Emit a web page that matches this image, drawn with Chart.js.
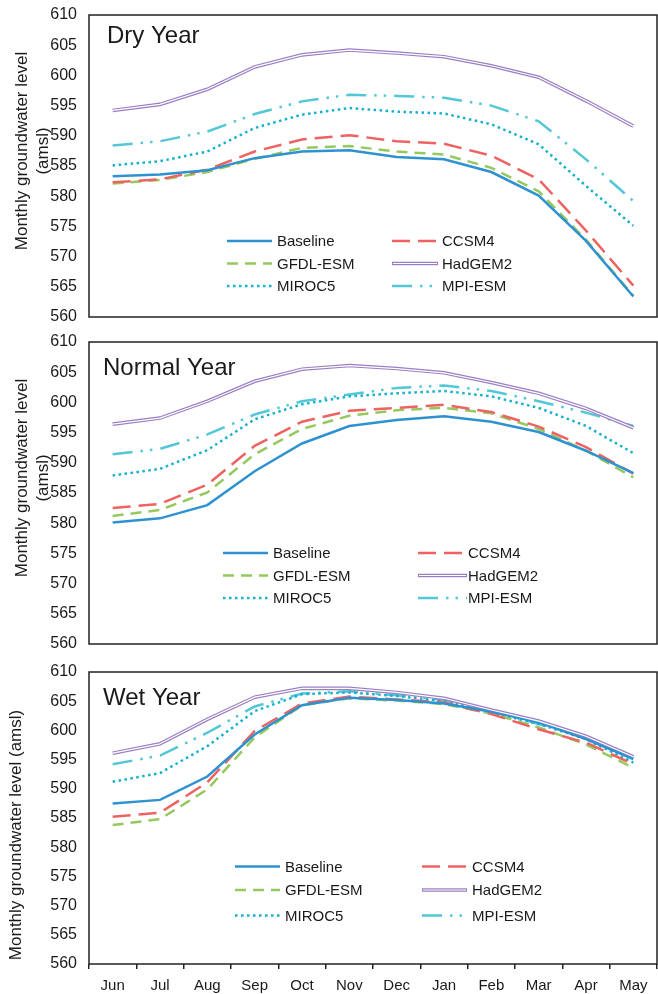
<!DOCTYPE html>
<html>
<head>
<meta charset="utf-8">
<script src="https://cdn.jsdelivr.net/npm/chart.js@4.4.1/dist/chart.umd.min.js"></script>
<style>
  body { margin: 0; background: #fff; }
  .wrap { position: relative; width: 658px; height: 994px; }
  canvas { position: absolute; left: 0; }
</style>
</head>
<body>
<div class="wrap">
  <canvas id="dry" width="658" height="330" style="top:0px"></canvas>
  <canvas id="normal" width="658" height="330" style="top:330px"></canvas>
  <canvas id="wet" width="658" height="334" style="top:660px"></canvas>
</div>
<script>
const months = ["Jun", "Jul", "Aug", "Sep", "Oct", "Nov", "Dec", "Jan", "Feb", "Mar", "Apr", "May"];
const seriesNames = ["Baseline", "CCSM4", "GFDL-ESM", "HadGEM2", "MIROC5", "MPI-ESM"];
const yTicks = [560, 565, 570, 575, 580, 585, 590, 595, 600, 605, 610];

// Dry year
const dryBaseline = [583.3, 583.6, 584.3, 586.3, 587.4, 587.6, 586.5, 586.1, 584.0, 580.1, 572.6, 563.4];
const dryCCSM4 = [582.3, 582.8, 584.4, 587.4, 589.4, 590.1, 589.1, 588.7, 586.7, 582.8, 574.3, 565.2];
const dryGFDL = [582.1, 582.7, 584.0, 586.2, 588.0, 588.3, 587.4, 586.9, 584.7, 580.8, 572.8, 563.5];
const dryHadGEM2 = [594.2, 595.2, 597.7, 601.4, 603.4, 604.2, 603.7, 603.1, 601.6, 599.7, 595.8, 591.6];
const dryMIROC5 = [585.1, 585.8, 587.4, 591.3, 593.5, 594.6, 594.0, 593.7, 591.9, 588.6, 581.7, 575.1];
const dryMPI = [588.4, 589.1, 590.7, 593.6, 595.7, 596.8, 596.6, 596.3, 595.0, 592.4, 586.1, 579.2];

// Normal year
const normalBaseline = [580.1, 580.8, 583.0, 588.6, 593.2, 596.1, 597.1, 597.7, 596.8, 595.1, 592.0, 588.3];
const normalCCSM4 = [582.5, 583.2, 586.4, 592.8, 596.8, 598.6, 599.1, 599.6, 598.4, 596.0, 592.6, 588.2];
const normalGFDL = [581.2, 582.2, 585.1, 591.4, 595.6, 597.8, 598.7, 599.1, 598.2, 595.6, 592.0, 587.6];
const normalHadGEM2 = [596.4, 597.4, 600.2, 603.5, 605.5, 606.1, 605.6, 604.9, 603.3, 601.5, 599.0, 595.8];
const normalMIROC5 = [587.9, 589.0, 592.1, 597.2, 599.7, 601.0, 601.5, 601.9, 601.0, 599.1, 596.1, 591.6];
const normalMPI = [591.4, 592.3, 594.7, 598.0, 600.2, 601.3, 602.4, 602.8, 601.9, 600.2, 598.3, 596.1];

// Wet year
const wetBaseline = [587.5, 588.1, 592.1, 599.3, 604.3, 605.6, 605.2, 604.6, 603.2, 601.4, 598.5, 595.1];
const wetCCSM4 = [585.2, 585.9, 591.1, 599.9, 604.6, 605.8, 605.3, 604.8, 602.8, 600.2, 597.9, 594.2];
const wetGFDL = [583.8, 584.8, 589.9, 598.8, 604.3, 605.5, 605.1, 604.5, 602.9, 600.5, 597.6, 593.6];
const wetHadGEM2 = [596.1, 597.7, 601.9, 605.7, 607.2, 607.2, 606.5, 605.5, 603.5, 601.6, 599.0, 595.5];
const wetMIROC5 = [591.2, 592.7, 597.3, 603.3, 606.2, 606.5, 605.9, 605.0, 603.1, 601.1, 598.5, 594.5];
const wetMPI = [594.2, 595.7, 599.6, 604.1, 606.3, 606.7, 606.0, 605.2, 603.3, 601.1, 598.8, 595.3];

const styles = [
  { color: "#2F92D0", width: 2.5, dash: [] },
  { color: "#EE6361", width: 2.5, dash: [18, 8] },
  { color: "#95C95E", width: 2.5, dash: [11, 7] },
  { color: "#9A7FC3", width: 3.6, dash: [], double: true },
  { color: "#14B1CC", width: 2.5, dash: [2.5, 3.5] },
  { color: "#52C7D5", width: 2.5, dash: [20, 8, 2.5, 7, 2.5, 8] },
];

const FONT = "'Liberation Sans', Arial, sans-serif";
const TEXT = "#1a1a1a";

// white core for the double HadGEM2 line
const doubleLine = {
  id: "doubleLine",
  afterDatasetsDraw(chart) {
    const ctx = chart.ctx;
    chart.data.datasets.forEach((ds, i) => {
      if (!ds.double) return;
      const pts = chart.getDatasetMeta(i).data;
      ctx.save();
      ctx.beginPath();
      pts.forEach((p, k) => (k === 0 ? ctx.moveTo(p.x, p.y) : ctx.lineTo(p.x, p.y)));
      ctx.strokeStyle = "#ffffff";
      ctx.lineWidth = 1.2;
      ctx.lineJoin = "round";
      ctx.stroke();
      ctx.restore();
    });
  },
};

const panelDecor = {
  id: "panelDecor",
  afterDraw(chart, args, opts) {
    const ctx = chart.ctx;
    const a = chart.chartArea;
    ctx.save();
    // frame
    ctx.strokeStyle = "#222";
    ctx.lineWidth = 1.5;
    ctx.setLineDash([]);
    ctx.strokeRect(a.left, a.top, a.right - a.left, a.bottom - a.top);

    // panel title
    ctx.fillStyle = TEXT;
    ctx.font = "24px " + FONT;
    ctx.textBaseline = "alphabetic";
    ctx.textAlign = "left";
    ctx.fillText(opts.title, opts.titleX, a.top + opts.titleDy);

    // y axis title
    ctx.font = "17px " + FONT;
    ctx.textAlign = "center";
    ctx.textBaseline = "middle";
    opts.yTitle.forEach((line, k) => {
      ctx.save();
      ctx.translate(opts.yTitleX[k], opts.yTitleCy);
      ctx.rotate(-Math.PI / 2);
      ctx.fillText(line, 0, 0);
      ctx.restore();
    });

    // legend, two columns
    ctx.font = "15px " + FONT;
    ctx.textAlign = "left";
    chart.data.datasets.forEach((ds, i) => {
      const col = i % 2;
      const row = Math.floor(i / 2);
      const y = opts.legendRows[row];
      const [x0, x1, tx] = opts.legendCols[col];
      ctx.beginPath();
      ctx.setLineDash(ds.borderDash || []);
      ctx.strokeStyle = ds.borderColor;
      ctx.lineWidth = ds.borderWidth;
      ctx.moveTo(x0, y);
      ctx.lineTo(x1, y);
      ctx.stroke();
      if (ds.double) {
        ctx.beginPath();
        ctx.strokeStyle = "#ffffff";
        ctx.lineWidth = 1.2;
        ctx.moveTo(x0 + 1, y);
        ctx.lineTo(x1 - 1, y);
        ctx.stroke();
      }
      ctx.setLineDash([]);
      ctx.fillStyle = TEXT;
      ctx.fillText(ds.label, tx, y + 1);
    });
    ctx.restore();
  },
};

function makePanel(id, values, decor, showX, padTop, padBottom) {
  const datasets = values.map((v, i) => ({
    label: seriesNames[i],
    data: v,
    borderColor: styles[i].color,
    borderWidth: styles[i].width,
    borderDash: styles[i].dash,
    double: !!styles[i].double,
    pointRadius: 0,
    tension: 0,
    fill: false,
  }));

  return new Chart(document.getElementById(id), {
    type: "line",
    data: { labels: months, datasets: datasets },
    plugins: [doubleLine, panelDecor],
    options: {
      responsive: false,
      animation: false,
      devicePixelRatio: 1,
      layout: { padding: { top: padTop, bottom: padBottom, right: 1, left: 0 } },
      plugins: {
        legend: { display: false },
        tooltip: { enabled: false },
        panelDecor: decor,
      },
      scales: {
        x: {
          type: "category",
          offset: true,
          border: { display: false },
          grid: {
            display: showX,
            drawOnChartArea: false,
            drawTicks: true,
            tickLength: 5,
            offset: true,
            color: "#222",
            lineWidth: 1.5,
          },
          ticks: {
            display: showX,
            color: TEXT,
            font: { family: FONT, size: 15 },
            padding: 8,
            maxRotation: 0,
            autoSkip: false,
          },
          afterFit: (s) => {
            s.height = showX ? 30 : 0;
            s.paddingLeft = 0;
            s.paddingRight = 0;
          },
        },
        y: {
          min: yTicks[0],
          max: yTicks[yTicks.length - 1],
          border: { display: false },
          grid: { display: false, drawTicks: false },
          afterBuildTicks: (s) => {
            s.ticks = yTicks.map((v) => ({ value: v }));
          },
          ticks: {
            color: TEXT,
            font: { family: FONT, size: 16 },
            padding: 12,
          },
          afterFit: (s) => {
            s.width = 89;
            s.paddingTop = 0;
            s.paddingBottom = 0;
          },
        },
      },
    },
  });
}

const legendRowsBase = [0, 22.5, 45];

makePanel(
  "dry",
  [dryBaseline, dryCCSM4, dryGFDL, dryHadGEM2, dryMIROC5, dryMPI],
  {
    title: "Dry Year",
    titleX: 107,
    titleDy: 28,
    yTitle: ["Monthly groundwater level", "(amsl)"],
    yTitleX: [22, 43],
    yTitleCy: 151,
    legendRows: legendRowsBase.map((d) => 241 + d),
    legendCols: [[227, 272, 277], [392, 438, 442]],
  },
  false, 15, 13
);

makePanel(
  "normal",
  [normalBaseline, normalCCSM4, normalGFDL, normalHadGEM2, normalMIROC5, normalMPI],
  {
    title: "Normal Year",
    titleX: 103,
    titleDy: 33,
    yTitle: ["Monthly groundwater level", "(amsl)"],
    yTitleX: [22, 43],
    yTitleCy: 148,
    legendRows: legendRowsBase.map((d) => 553 - 330 + d),
    legendCols: [[223, 268, 273], [418, 467, 468]],
  },
  false, 12, 16
);

makePanel(
  "wet",
  [wetBaseline, wetCCSM4, wetGFDL, wetHadGEM2, wetMIROC5, wetMPI],
  {
    title: "Wet Year",
    titleX: 103,
    titleDy: 33,
    yTitle: ["Monthly groundwater level (amsl)"],
    yTitleX: [16],
    yTitleCy: 175,
    legendRows: [866.5 - 660, 890 - 660, 915.5 - 660],
    legendCols: [[235, 280, 285], [422, 467, 472]],
  },
  true, 12, 0
);
</script>
</body>
</html>
